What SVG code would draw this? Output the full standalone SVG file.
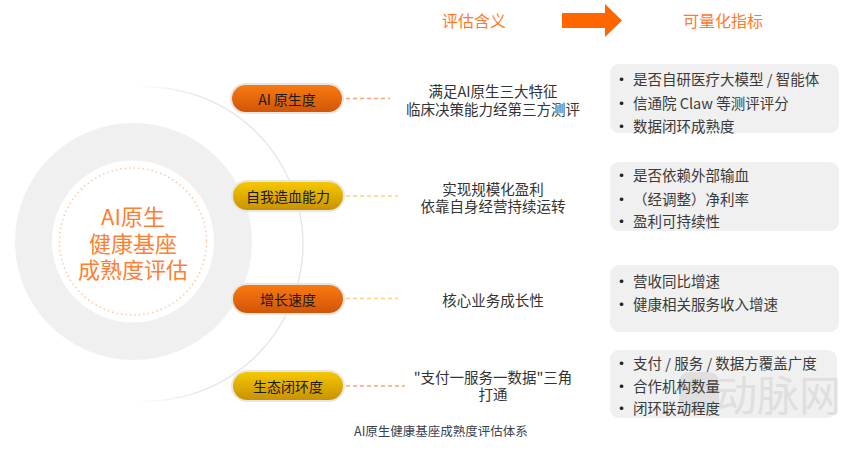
<svg xmlns="http://www.w3.org/2000/svg" width="868" height="451" viewBox="0 0 868 451">
<style>
text{font-family:"Noto Sans CJK SC","Noto Sans",sans-serif;}
.pill{font-size:14px;fill:#1a1a1a;text-anchor:middle;dominant-baseline:central;}
.mid{font-size:14.5px;fill:#333;text-anchor:middle;dominant-baseline:central;}
.item{font-size:14.5px;fill:#3a3a3a;dominant-baseline:central;}
.bul{font-size:17px;fill:#222;dominant-baseline:central;}
.hdr{font-size:16px;fill:#ff7a2a;text-anchor:middle;dominant-baseline:central;}
.box{fill:#f0f0f0;}
.dashO{stroke:#f6a676;stroke-width:1.5;stroke-dasharray:4 3;fill:none;}
.dashY{stroke:#f9d47a;stroke-width:1.5;stroke-dasharray:4 3;fill:none;}
</style>
<defs>
<linearGradient id="gO" x1="0" y1="0" x2="0" y2="1">
<stop offset="0" stop-color="#f97a10"/><stop offset="1" stop-color="#d25508"/>
</linearGradient>
<linearGradient id="gY" x1="0" y1="0" x2="0" y2="1">
<stop offset="0" stop-color="#f5c800"/><stop offset="1" stop-color="#c99200"/>
</linearGradient>
<linearGradient id="arcFade" gradientUnits="userSpaceOnUse" x1="135" y1="0" x2="210" y2="0">
<stop offset="0" stop-color="#e4e4e4" stop-opacity="0"/><stop offset="1" stop-color="#e4e4e4" stop-opacity="1"/>
</linearGradient>
</defs>
<rect width="868" height="451" fill="#ffffff"/>

<g id="center">
<path d="M132.3,87.6 A157,157 0 1 1 132.3,400.4" fill="none" stroke="url(#arcFade)" stroke-width="1.3"/>
<circle cx="133.5" cy="241.5" r="118.5" fill="#f0f0f0"/>
<circle cx="133" cy="241.5" r="81" fill="#ffffff"/>
<circle cx="133" cy="241.5" r="73.5" fill="none" stroke="#fbc9a6" stroke-width="1.5" stroke-dasharray="1.5 3"/>
<text x="133" y="215" font-size="22" fill="#ff7f32" text-anchor="middle" dominant-baseline="central">AI原生</text>
<text x="133" y="242" font-size="22" fill="#ff7f32" text-anchor="middle" dominant-baseline="central">健康基座</text>
<text x="133" y="268" font-size="22" fill="#ff7f32" text-anchor="middle" dominant-baseline="central">成熟度评估</text>
</g>

<g id="header">
<text class="hdr" x="474" y="20">评估含义</text>
<polygon points="562,13 605,13 605,4 622,20.5 605,37 605,28 562,28" fill="#ff6600"/>
<text class="hdr" x="723" y="20">可量化指标</text>
</g>

<g id="connectors">
<line class="dashO" x1="346" y1="98.5" x2="390" y2="98.5"/>
<line class="dashY" x1="346" y1="196" x2="398" y2="196"/>
<line class="dashY" x1="346" y1="298.5" x2="398" y2="298.5"/>
<line class="dashO" x1="346" y1="386" x2="405" y2="386"/>
</g>

<g id="node-ai">
<rect x="231" y="84" width="112" height="29" rx="14.5" fill="none" stroke="#e6e6e6" stroke-width="2"/>
<rect x="232" y="85" width="110" height="27" rx="13.5" fill="url(#gO)"/>
<text class="pill" x="287" y="98.5">AI 原生度</text>
<text class="mid" x="493" y="90">满足AI原生三大特征</text>
<text class="mid" x="493" y="108">临床决策能力经第三方测评</text>
</g>

<g id="node-self">
<rect x="232" y="181" width="112" height="30" rx="15" fill="none" stroke="#e6e6e6" stroke-width="2"/>
<rect x="233" y="182" width="110" height="28" rx="14" fill="url(#gY)"/>
<text class="pill" x="288" y="196">自我造血能力</text>
<text class="mid" x="493" y="188">实现规模化盈利</text>
<text class="mid" x="493" y="205">依靠自身经营持续运转</text>
</g>

<g id="node-growth">
<rect x="232" y="284" width="112" height="30" rx="15" fill="none" stroke="#e6e6e6" stroke-width="2"/>
<rect x="233" y="285" width="110" height="28" rx="14" fill="url(#gO)"/>
<text class="pill" x="288" y="299">增长速度</text>
<text class="mid" x="493" y="299">核心业务成长性</text>
</g>

<g id="node-eco">
<rect x="232" y="371" width="112" height="30" rx="15" fill="none" stroke="#e6e6e6" stroke-width="2"/>
<rect x="233" y="372" width="110" height="28" rx="14" fill="url(#gY)"/>
<text class="pill" x="288" y="386">生态闭环度</text>
<text class="mid" x="493" y="376">"支付一服务一数据"三角</text>
<text class="mid" x="493" y="393">打通</text>
</g>

<g id="box-1">
<rect class="box" x="610" y="64" width="229" height="69" rx="9"/>
<text class="bul" x="613" y="78">•</text><text class="item" x="633" y="78">是否自研医疗大模型 / 智能体</text>
<text class="bul" x="613" y="102">•</text><text class="item" x="633" y="102">信通院 Claw 等测评评分</text>
<text class="bul" x="613" y="125">•</text><text class="item" x="633" y="125">数据闭环成熟度</text>
</g>

<g id="box-2">
<rect class="box" x="610" y="162" width="229" height="69" rx="9"/>
<text class="bul" x="613" y="174">•</text><text class="item" x="633" y="174">是否依赖外部输血</text>
<text class="bul" x="613" y="198">•</text><text class="item" x="633" y="198">（经调整）净利率</text>
<text class="bul" x="613" y="220">•</text><text class="item" x="633" y="220">盈利可持续性</text>
</g>

<g id="box-3">
<rect class="box" x="610" y="265" width="229" height="67" rx="9"/>
<text class="bul" x="613" y="280">•</text><text class="item" x="633" y="280">营收同比增速</text>
<text class="bul" x="613" y="303">•</text><text class="item" x="633" y="303">健康相关服务收入增速</text>
</g>

<g id="box-4">
<rect class="box" x="610" y="350" width="227" height="68" rx="9"/>
<g id="watermark" opacity="0.5">
<rect x="679" y="372" width="40" height="41" rx="10" fill="#cfcfcf"/>
<text x="778" y="392" font-size="42" fill="#cfcfcf" text-anchor="middle" dominant-baseline="central">动脉网</text>
</g>
<text class="bul" x="613" y="362">•</text><text class="item" x="633" y="362">支付 / 服务 / 数据方覆盖广度</text>
<text class="bul" x="613" y="385">•</text><text class="item" x="633" y="385">合作机构数量</text>
<text class="bul" x="613" y="407">•</text><text class="item" x="633" y="407">闭环联动程度</text>
</g>

<text x="441" y="430" font-size="12.5" fill="#3a4250" text-anchor="middle" dominant-baseline="central">AI原生健康基座成熟度评估体系</text>
</svg>
